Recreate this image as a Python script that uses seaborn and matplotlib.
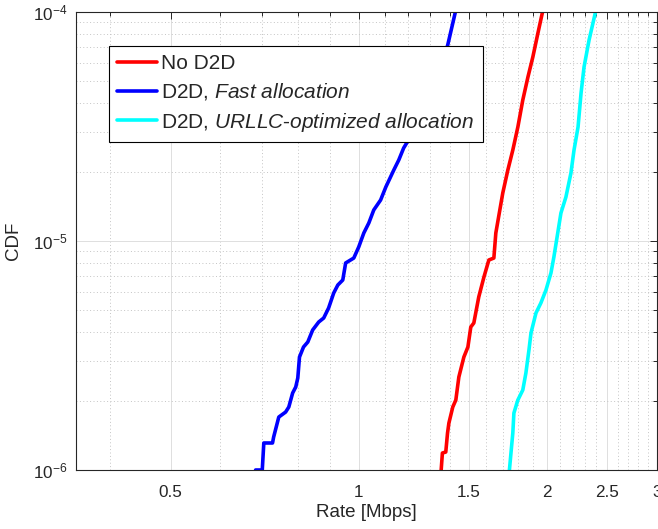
#!/usr/bin/env python3
import matplotlib
matplotlib.use("Agg")
import matplotlib.pyplot as plt
import matplotlib.ticker as mticker
import numpy as np
import pandas as pd
import seaborn as sns

RED = "#FF0000"
BLUE = "#0000FF"
CYAN = "#00FFFF"
AXIS = "#262626"

rate_no_d2d = [1.353, 1.361, 1.378, 1.387, 1.394, 1.414, 1.430, 1.446, 1.473, 1.495,
               1.511, 1.528, 1.556, 1.586, 1.615, 1.645, 1.657, 1.700, 1.732, 1.764,
               1.797, 1.830, 1.865, 1.899, 1.935, 1.971]
cdf_no_d2d = [0.95e-6, 1.186e-6, 1.198e-6, 1.451e-6, 1.604e-6, 1.884e-6, 2.021e-6, 2.547e-6,
              3.114e-6, 3.444e-6, 4.211e-6, 4.385e-6, 5.695e-6, 6.963e-6, 8.260e-6, 8.425e-6,
              1.084e-5, 1.621e-5, 2.042e-5, 2.496e-5, 3.145e-5, 4.127e-5, 5.201e-5, 6.361e-5,
              8.097e-5, 1.02e-4]

rate_fast = [0.684, 0.701, 0.705, 0.728, 0.731, 0.745, 0.764, 0.773, 0.784, 0.793, 0.799,
             0.804, 0.816, 0.829, 0.844, 0.863, 0.879, 0.895, 0.912, 0.926, 0.943, 0.953,
             0.982, 1.000, 1.019, 1.038, 1.057, 1.084, 1.105, 1.138, 1.159, 1.180, 1.220,
             1.257, 1.304, 1.353, 1.388, 1.430]
cdf_fast = [1.0e-6, 1.0e-6, 1.312e-6, 1.312e-6, 1.393e-6, 1.703e-6, 1.791e-6, 1.884e-6,
            2.169e-6, 2.304e-6, 2.522e-6, 3.114e-6, 3.444e-6, 3.622e-6, 4.087e-6, 4.428e-6,
            4.610e-6, 5.097e-6, 5.928e-6, 6.425e-6, 6.756e-6, 8.017e-6, 8.425e-6, 9.414e-6,
            1.084e-5, 1.199e-5, 1.366e-5, 1.510e-5, 1.721e-5, 2.042e-5, 2.258e-5, 2.547e-5,
            2.961e-5, 3.622e-5, 4.428e-5, 5.750e-5, 7.177e-5, 1.02e-4]

rate_urllc = [1.739, 1.752, 1.764, 1.771, 1.797, 1.830, 1.851, 1.872, 1.886, 1.921, 1.956,
              1.993, 2.030, 2.052, 2.106, 2.145, 2.185, 2.210, 2.243, 2.268, 2.293, 2.336,
              2.396]
cdf_urllc = [0.95e-6, 1.186e-6, 1.451e-6, 1.773e-6, 2.021e-6, 2.235e-6, 2.651e-6, 3.342e-6,
             3.965e-6, 4.848e-6, 5.362e-6, 6.109e-6, 7.250e-6, 8.510e-6, 1.325e-5, 1.556e-5,
             1.981e-5, 2.496e-5, 3.145e-5, 4.428e-5, 5.750e-5, 7.546e-5, 1.02e-4]

labels = ["No D2D",
          r"D2D, $\mathit{Fast\ allocation}$",
          r"D2D, $\mathit{URLLC}$-$\mathit{optimized\ allocation}$"]
colors = [RED, BLUE, CYAN]

x_ticks = [0.5, 1, 1.5, 2, 2.5, 3]
x_ticklabels = ["0.5", "1", "1.5", "2", "2.5", "3"]
y_ticks = [1e-6, 1e-5, 1e-4]
y_ticklabels = [r"10$^{-6}$", r"10$^{-5}$", r"10$^{-4}$"]

sns.set_style("white")
plt.rcParams.update({
    "font.family": ["Liberation Sans", "DejaVu Sans"],
    "mathtext.fontset": "custom",
    "mathtext.rm": "Liberation Sans",
    "mathtext.it": "Liberation Sans:italic",
    "mathtext.bf": "Liberation Sans:bold",
    "mathtext.default": "regular",
})

fig = plt.figure(figsize=(6.58, 5.29), dpi=100)
ax = fig.add_axes([76 / 658, 59 / 529, 581 / 658, 458 / 529])

series = [(rate_no_d2d, cdf_no_d2d), (rate_fast, cdf_fast), (rate_urllc, cdf_urllc)]
for (r, c), lab, col in zip(series, labels, colors):
    df = pd.DataFrame({"rate": r, "cdf": c})
    sns.lineplot(data=df, x="rate", y="cdf", sort=False, estimator=None,
                 color=col, linewidth=2.6, label=lab, ax=ax)

ax.set_xscale("log")
ax.set_yscale("log")
ax.set_xlim(0.353, 3.0)
ax.set_ylim(1e-6, 1e-4)

ax.xaxis.set_major_locator(mticker.FixedLocator(x_ticks))
ax.xaxis.set_major_formatter(mticker.FixedFormatter(x_ticklabels))
minor_x = [v for v in np.round(np.arange(0.4, 3.0, 0.1), 1) if v not in x_ticks]
ax.xaxis.set_minor_locator(mticker.FixedLocator(minor_x))
ax.xaxis.set_minor_formatter(mticker.NullFormatter())

ax.yaxis.set_major_locator(mticker.FixedLocator(y_ticks))
ax.yaxis.set_major_formatter(mticker.FixedFormatter(y_ticklabels))
ax.yaxis.set_minor_locator(mticker.LogLocator(base=10, subs=np.arange(2, 10)))
ax.yaxis.set_minor_formatter(mticker.NullFormatter())

ax.grid(which="major", color="#dedede", linestyle="-", linewidth=0.7)
ax.grid(which="minor", color="#c4c4c4", linestyle=(0, (1, 2.5)), linewidth=0.7)
ax.set_axisbelow(True)

for s in ax.spines.values():
    s.set_visible(True)
    s.set_color(AXIS)
    s.set_linewidth(0.8)
ax.tick_params(which="both", direction="in", top=True, right=True, color=AXIS,
               labelcolor=AXIS, labelsize=12.3, width=0.7)
ax.tick_params(which="major", length=5)
ax.tick_params(which="minor", length=3)
ax.tick_params(axis="x", which="major", pad=11)
ax.tick_params(axis="y", which="major", pad=6)

ax.set_xlabel("Rate [Mbps]", fontsize=13.5, color=AXIS, labelpad=3)
ax.set_ylabel("CDF", fontsize=13.5, color=AXIS, labelpad=8)

leg = ax.legend(loc="upper left", bbox_to_anchor=((109 - 76) / 581, 1 - (46 - 12) / 458),
                borderaxespad=0, fontsize=15, frameon=True, fancybox=False, framealpha=1,
                edgecolor="#000000", handlelength=1.9, handletextpad=0.2,
                labelspacing=0.39, borderpad=0.4)
leg.get_frame().set_linewidth(0.8)

fig.savefig("out.png", dpi=100, facecolor="white")
